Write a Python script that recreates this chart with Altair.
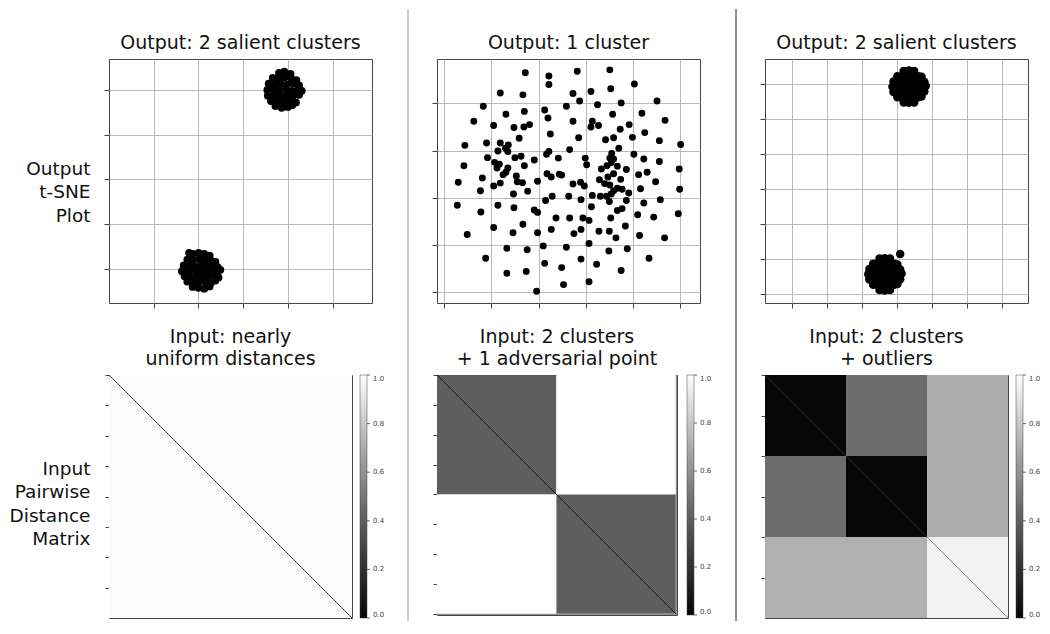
import altair as alt
import pandas as pd

FONT = "DejaVu Sans"

# ---------------- Panel 1 (top-left): Output: 2 salient clusters ----------------
p1_center_x = [2.05, 3.92]
p1_center_y = [0.96, 5.00]
p1_lower_dx = [-0.18, -0.05, 0.08, 0.20, -0.30, -0.17, -0.04, 0.10, 0.24, 0.33,
               -0.38, -0.25, -0.12, 0.02, 0.15, 0.28, 0.38, -0.42, -0.29, -0.16,
               -0.03, 0.10, 0.23, 0.36, 0.44, -0.36, -0.24, -0.10, 0.04, 0.17,
               0.30, 0.40, -0.30, -0.17, -0.04, 0.10, 0.23, 0.33, -0.18, -0.05,
               0.08, 0.20, -0.26]
p1_lower_dy = [0.38, 0.40, 0.38, 0.34, 0.25, 0.24, 0.26, 0.24, 0.22, 0.20,
               0.12, 0.13, 0.10, 0.12, 0.11, 0.12, 0.08, -0.01, 0.00, 0.02,
               -0.02, 0.00, -0.01, -0.03, 0.02, -0.12, -0.13, -0.11, -0.13, -0.12,
               -0.10, -0.15, -0.24, -0.26, -0.25, -0.24, -0.27, -0.22, -0.36, -0.38,
               -0.40, -0.35, 0.40]
p1_upper_dx = [-0.12, 0.00, 0.14, -0.26, -0.13, 0.01, 0.15, 0.27, -0.35, -0.22,
               -0.08, 0.06, 0.20, 0.33, -0.38, -0.25, -0.11, 0.03, 0.17, 0.30,
               0.39, -0.37, -0.23, -0.09, 0.05, 0.19, 0.33, -0.30, -0.16, -0.02,
               0.12, 0.26, -0.20, -0.06, 0.08, 0.18]
p1_upper_dy = [0.38, 0.41, 0.36, 0.27, 0.25, 0.28, 0.26, 0.22, 0.14, 0.12,
               0.14, 0.12, 0.15, 0.10, 0.00, 0.02, -0.01, 0.01, -0.02, 0.01,
               -0.02, -0.13, -0.12, -0.14, -0.12, -0.13, -0.11, -0.25, -0.27, -0.26,
               -0.25, -0.28, -0.36, -0.40, -0.38, -0.34]

# ---------------- Panel 2 (top-middle): Output: 1 cluster ----------------
p2_x = [1.72, 2.22, 2.22, 1.19, 1.67, 0.83, 1.70, 2.13, 2.59, 1.31, 0.63, 2.20,
        1.05, 1.48, 1.69, 1.81, 1.59, 2.25, 0.44, 0.90, 1.19, 1.36, 1.30, 1.14,
        1.35, 2.22, 2.17, 0.92, 1.50, 1.63, 1.91, 2.42, 0.42, 1.07, 1.17, 1.12,
        1.35, 1.70, 1.31, 1.25, 0.81, 1.53, 2.18, 2.27, 2.44, 2.49, 0.30, 1.19,
        1.05, 1.55, 1.66, 1.98, 0.77, 1.77, 1.47, 2.29, 2.64, 2.15, 0.28, 1.14,
        1.48, 1.91, 1.98, 0.78, 2.37, 1.05, 1.67, 2.27, 0.49, 1.46, 1.98, 1.33,
        1.76, 2.10, 2.59, 0.88, 2.13, 2.49, 1.33, 1.74, 2.53, 1.96,
        2.82, 3.51, 4.03, 3.11, 3.53, 2.73, 2.87, 3.25, 3.75, 4.51, 3.57, 4.19,
        2.73, 3.14, 3.11, 3.27, 4.68, 3.92, 3.73, 4.25, 2.85, 3.42, 3.59, 3.99,
        4.56, 5.01, 2.66, 4.02, 2.99, 3.02, 4.23, 4.56, 2.73, 2.89, 2.97, 4.12,
        4.30, 4.48, 4.16, 4.98, 4.99, 2.90, 3.14, 3.86, 4.23, 4.58, 3.12, 3.67,
        3.77, 2.66, 2.94, 3.07, 3.53, 4.10, 4.44, 4.96, 2.75, 2.90, 3.28, 3.50,
        3.64, 3.84, 4.14, 4.67, 3.07, 3.49, 3.88, 2.90, 3.23, 4.34, 3.75, 3.07,
        3.70, 3.55, 3.51, 3.59, 3.54, 3.67, 3.45, 3.33, 3.86, 3.59, 3.47, 3.74,
        3.29, 3.40, 3.51, 3.67, 3.59, 3.77, 3.91, 3.54, 3.44, 3.31, 3.50]
p2_y = [4.65, 4.58, 4.40, 4.22, 4.18, 3.94, 3.83, 3.86, 3.94, 3.77, 3.62, 3.69,
        3.53, 3.49, 3.50, 3.55, 3.26, 3.35, 3.11, 3.16, 3.16, 3.12, 3.05, 2.99,
        2.98, 2.98, 2.92, 2.85, 2.85, 2.88, 2.80, 2.84, 2.68, 2.75, 2.71, 2.63,
        2.63, 2.68, 2.54, 2.49, 2.42, 2.46, 2.51, 2.44, 2.50, 2.48, 2.33, 2.31,
        2.25, 2.34, 2.32, 2.35, 2.15, 2.14, 2.08, 2.03, 2.03, 1.94, 1.84, 1.84,
        1.79, 1.74, 1.69, 1.70, 1.57, 1.37, 1.44, 1.33, 1.22, 1.26, 1.26, 0.93,
        0.90, 0.98, 0.95, 0.72, 0.61, 0.52, 0.40, 0.44, 0.16, 0.02,
        4.68, 4.71, 4.41, 4.25, 4.31, 4.21, 4.05, 3.97, 4.01, 4.05, 3.77, 3.79,
        3.62, 3.62, 3.50, 3.53, 3.64, 3.55, 3.45, 3.38, 3.27, 3.23, 3.27, 3.28,
        3.21, 3.13, 3.02, 2.92, 2.84, 2.70, 2.82, 2.77, 2.29, 2.33, 2.25, 2.49,
        2.54, 2.34, 2.19, 2.61, 2.18, 1.96, 2.05, 1.94, 1.89, 1.96, 1.81, 1.73,
        1.77, 1.57, 1.57, 1.52, 1.57, 1.64, 1.59, 1.66, 1.24, 1.33, 1.29, 1.29,
        1.15, 1.40, 1.20, 1.15, 1.03, 0.87, 0.92, 0.70, 0.59, 0.72, 0.46, 0.22,
        3.05, 2.94, 2.84, 2.82, 2.74, 2.67, 2.68, 2.61, 2.60, 2.51, 2.44, 2.39,
        2.38, 2.30, 2.27, 2.20, 2.15, 2.18, 2.10, 2.08, 2.03, 2.03, 1.92]

# ---------------- Panel 3 (top-right): Output: 2 salient clusters ----------------
p3_center_x = [3.34, 2.65]
p3_center_y = [5.93, 0.57]
p3_blob_dx = [-0.15, 0.00, 0.15, -0.33, -0.18, -0.03, 0.12, 0.27, 0.36,
              -0.44, -0.29, -0.14, 0.01, 0.16, 0.31, 0.44,
              -0.47, -0.32, -0.17, -0.02, 0.13, 0.28, 0.43, 0.48,
              -0.44, -0.29, -0.14, 0.01, 0.16, 0.31, 0.44,
              -0.33, -0.18, -0.03, 0.12, 0.27, 0.36, -0.15, 0.00, 0.15]
p3_blob_dy = [0.45, 0.46, 0.45, 0.30, 0.32, 0.31, 0.32, 0.30, 0.28,
              0.15, 0.16, 0.15, 0.16, 0.15, 0.16, 0.14,
              0.00, 0.01, -0.01, 0.00, 0.01, -0.01, 0.00, 0.02,
              -0.15, -0.16, -0.15, -0.16, -0.15, -0.16, -0.14,
              -0.30, -0.32, -0.31, -0.32, -0.30, -0.28, -0.45, -0.46, -0.45]
p3_extra_x = [3.09]
p3_extra_y = [1.15]

# ---------------- Distance matrices (blocks: x0, x1, y0, y1, value) ----------------
h1_n = 200
h1_x0, h1_x1, h1_y0, h1_y1, h1_v = [0], [200], [0], [200], [0.99]
h1_diag_v = [0.30]

h2_n = 201
h2_x0 = [0, 100, 0, 100, 200, 0]
h2_x1 = [100, 200, 100, 200, 201, 200]
h2_y0 = [0, 0, 100, 100, 0, 200]
h2_y1 = [100, 100, 200, 200, 201, 201]
h2_v = [0.40, 1.00, 1.00, 0.40, 0.60, 0.60]
h2_diag_v = [0.05]

h3_n = 300
h3_x0 = [0, 100, 200, 0, 100, 0, 200]
h3_x1 = [100, 200, 300, 100, 200, 200, 300]
h3_y0 = [0, 0, 0, 100, 100, 200, 200]
h3_y1 = [100, 100, 200, 200, 200, 300, 300]
h3_v = [0.02, 0.46, 0.71, 0.46, 0.02, 0.72, 0.95]
h3_diag_from = [0, 200]
h3_diag_to = [200, 300]
h3_diag_v = [0.12, 0.55]

colorbar_ticks = [0.0, 0.2, 0.4, 0.6, 0.8, 1.0]


def cluster_df(cx, cy, dx, dy):
    return pd.DataFrame({"x": [cx + a for a in dx], "y": [cy + b for b in dy]})


df1 = pd.concat([cluster_df(p1_center_x[0], p1_center_y[0], p1_lower_dx, p1_lower_dy),
                 cluster_df(p1_center_x[1], p1_center_y[1], p1_upper_dx, p1_upper_dy)])
df2 = pd.DataFrame({"x": p2_x, "y": p2_y})
df3 = pd.concat([cluster_df(p3_center_x[0], p3_center_y[0], p3_blob_dx, p3_blob_dy),
                 cluster_df(p3_center_x[1], p3_center_y[1], p3_blob_dx, p3_blob_dy),
                 pd.DataFrame({"x": p3_extra_x, "y": p3_extra_y})])
cb_df = pd.DataFrame({"t": colorbar_ticks})

TW, TH = 263, 244
GRID = "#b9b9b9"
TEXT = "#111111"
CB_W = 7


def title_params(text):
    return alt.TitleParams(text=text, frame="group", offset=6, anchor="middle",
                           font=FONT, fontSize=19, fontWeight="normal", color=TEXT,
                           lineHeight=22)


def row_title(lines, ty):
    return dict(title=lines, titleAngle=0, titleAlign="right", titleBaseline="middle",
                titleX=-19, titleY=ty, titleFont=FONT, titleFontSize=18.5,
                titleFontWeight="normal", titleColor=TEXT, titleLineHeight=23.5)


def scatter_panel(df, xdom, ydom, xticks, yticks, size, title, row_label=None, sep_color=None):
    ykw = dict(values=yticks, labels=False, ticks=True, tickSize=5, grid=True, domain=False,
               gridColor=GRID)
    if row_label:
        ykw.update(row_title(row_label, 109))
    else:
        ykw.update(title=None)
    pts = alt.Chart(df).mark_circle(size=size, color="black", opacity=1).encode(
        x=alt.X("x:Q", scale=alt.Scale(domain=xdom, nice=False, zero=False),
                axis=alt.Axis(values=xticks, labels=False, ticks=True, tickSize=5,
                              grid=True, domain=False, title=None, gridColor=GRID)),
        y=alt.Y("y:Q", scale=alt.Scale(domain=ydom, nice=False, zero=False),
                axis=alt.Axis(**ykw)),
    )
    ttl = alt.Chart(alt.Data(values=[{}])).mark_text(
        text=title, font=FONT, fontSize=19, align="center", baseline="alphabetic",
        color=TEXT).encode(x=alt.value(TW / 2), y=alt.value(-10))
    layers = [pts, ttl]
    if sep_color:
        sep = alt.Chart(alt.Data(values=[{}])).mark_rule(color=sep_color, strokeWidth=1).encode(
            x=alt.value(-29), y=alt.value(-50), y2=alt.value(562))
        layers.append(sep)
    return alt.layer(*layers).properties(width=TW, height=TH)


def heat_panel(blocks, diag, n, size, xticks, yticks, title, leg_offset, row_label=None):
    cs = alt.Scale(domain=[0, 1], range=["#000000", "#ffffff"])
    legend = alt.Legend(type="gradient", orient="right", direction="vertical",
                        offset=leg_offset, padding=0,
                        gradientLength=size, gradientThickness=CB_W, title=None,
                        values=colorbar_ticks, format=".1f", labelFont=FONT,
                        labelFontSize=7, labelColor="#444", labelOffset=6,
                        gradientStrokeColor="#444", gradientStrokeWidth=0.5,
                        labelOverlap=False)
    ykw = dict(values=yticks, labels=False, ticks=True, tickSize=4, grid=False, domain=False)
    if row_label:
        ykw.update(row_title(row_label, 93))
    else:
        ykw.update(title=None)
    xs = alt.Scale(domain=[0, n], nice=False, zero=False)
    ys = alt.Scale(domain=[0, n], nice=False, zero=False, reverse=True)
    rects = alt.Chart(blocks).mark_rect(strokeWidth=0).encode(
        x=alt.X("x0:Q", scale=xs, axis=alt.Axis(values=xticks, labels=False, ticks=True,
                                                 tickSize=5, grid=False, domain=False, title=None)),
        x2="x1:Q",
        y=alt.Y("y0:Q", scale=ys, axis=alt.Axis(**ykw)),
        y2="y1:Q",
        color=alt.Color("v:Q", scale=cs, legend=legend),
    )
    line = alt.Chart(diag).mark_rule(strokeWidth=1).encode(
        x=alt.X("x0:Q", scale=xs, axis=None), x2="x1:Q",
        y=alt.Y("y0:Q", scale=ys, axis=None), y2="y1:Q",
        color=alt.Color("v:Q", scale=alt.Scale(domain=[0, 1], range=["#000000", "#ffffff"]),
                        legend=None),
    )
    cb_x = size + leg_offset + CB_W
    cbt = alt.Chart(cb_df).mark_rule(color="#444", strokeWidth=0.8).encode(
        x=alt.value(cb_x), x2=alt.value(cb_x + 3),
        y=alt.Y("t:Q", scale=alt.Scale(domain=[0, 1], nice=False, zero=False), axis=None),
    )
    return alt.layer(rects, line, cbt).resolve_scale(
        color="independent", y="independent").resolve_legend(
        color="independent").properties(width=size, height=size, title=title_params(title))


p1 = scatter_panel(df1, [0, 5.88], [0.24, 5.69], [1, 2, 3, 4, 5], [1, 2, 3, 4, 5], 60,
                   "Output: 2 salient clusters", row_label=["Output", "t-SNE", "Plot"])
p2 = scatter_panel(df2, [-0.15, 5.42], [-0.23, 4.94], [0, 1, 2, 3, 4, 5], [0, 1, 2, 3, 4], 48,
                   "Output: 1 cluster", sep_color="#9a9a9a")
p3 = scatter_panel(df3, [-0.77, 6.74], [-0.25, 6.72], [0, 1, 2, 3, 4, 5, 6],
                   [0, 1, 2, 3, 4, 5, 6], 72, "Output: 2 salient clusters", sep_color="#222222")

b1 = pd.DataFrame({"x0": h1_x0, "x1": h1_x1, "y0": h1_y0, "y1": h1_y1, "v": h1_v})
d1 = pd.DataFrame({"x0": [0], "x1": [h1_n], "y0": [0], "y1": [h1_n], "v": h1_diag_v})
b2 = pd.DataFrame({"x0": h2_x0, "x1": h2_x1, "y0": h2_y0, "y1": h2_y1, "v": h2_v})
d2 = pd.DataFrame({"x0": [0], "x1": [200], "y0": [0], "y1": [200], "v": h2_diag_v})
b3 = pd.DataFrame({"x0": h3_x0, "x1": h3_x1, "y0": h3_y0, "y1": h3_y1, "v": h3_v})
d3 = pd.DataFrame({"x0": h3_diag_from, "x1": h3_diag_to, "y0": h3_diag_from,
                   "y1": h3_diag_to, "v": h3_diag_v})

h1 = heat_panel(b1, d1, h1_n, 243, [0, 50, 100, 150], list(range(0, 200, 25)),
                ["Input: nearly", "uniform distances"], 8,
                row_label=["Input", "Pairwise", "Distance", "Matrix"])
h2 = heat_panel(b2, d2, h2_n, 240, list(range(0, 201, 50)), list(range(0, 201, 25)),
                ["Input: 2 clusters", "+ 1 adversarial point"], 10)
h3 = heat_panel(b3, d3, h3_n, 243, list(range(0, 300, 50)), list(range(0, 300, 50)),
                ["Input: 2 clusters", "+ outliers"], 8)

chart = alt.concat(p1, p2, p3, h1, h2, h3, columns=3,
                   spacing={"row": 72, "column": 65}, bounds="flush").resolve_scale(
    color="independent").resolve_legend(color="independent").properties(
    padding=0, background="white").configure_view(
    stroke="#444", strokeWidth=1).configure_axis(
    tickColor="#444", tickWidth=1, gridColor=GRID, gridWidth=1)

chart.save("out.html", embed_options={"renderer": "svg", "actions": False})
